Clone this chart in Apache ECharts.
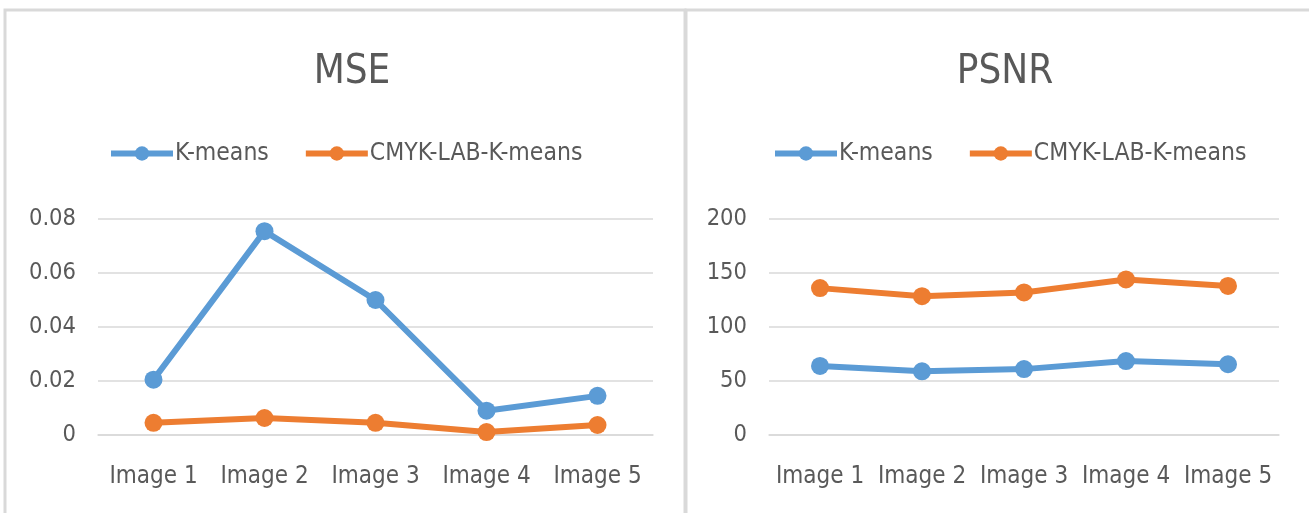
<!DOCTYPE html>
<html><head><meta charset="utf-8">
<script src="https://cdn.jsdelivr.net/npm/echarts@6/dist/echarts.min.js"></script>
<style>html,body{margin:0;padding:0;background:#fff}#c{width:1309px;height:513px}</style>
</head><body><div id="c"></div>
<script>
const categories = ['Image 1','Image 2','Image 3','Image 4','Image 5'];
const mseKmeans = [0.0205, 0.0755, 0.050, 0.009, 0.0145];
const mseCmyk = [0.0045, 0.0063, 0.0045, 0.0011, 0.0037];
const psnrKmeans = [64, 59, 61, 68.5, 65.5];
const psnrCmyk = [136, 128.5, 132, 144, 138];
const mseTicks = ['0','0.02','0.04','0.06','0.08'];
const psnrTicks = ['0','50','100','150','200'];

const FONT = "'DejaVu Sans Condensed','Open Sans',sans-serif";
const TXT = '#595959';
const BLUE = '#5B9BD5', ORANGE = '#ED7D31';
const chart = echarts.init(document.getElementById('c'));
function xAxis(i){return {type:'category',gridIndex:i,data:categories,boundaryGap:true,
  axisLine:{show:true,lineStyle:{color:'#D9D9D9',width:1.5}},axisTick:{show:false},
  axisLabel:{color:TXT,fontFamily:FONT,fontSize:24,margin:30,interval:0}};}
function yAxis(i,max,interval,fmt){return {type:'value',gridIndex:i,min:0,max:max,interval:interval,
  axisLine:{show:false},axisTick:{show:false},
  splitLine:{lineStyle:{color:'#D9D9D9',width:1.5}},
  axisLabel:{color:TXT,fontFamily:FONT,fontSize:23.5,margin:22,formatter:fmt}};}
function ser(name,data,color,i){return {name:name,type:'line',xAxisIndex:i,yAxisIndex:i,data:data,
  symbol:'circle',symbolSize:18,lineStyle:{color:color,width:6},itemStyle:{color:color},z:3};}
function legend(left){return {left:left,top:136,itemWidth:62,itemHeight:18,itemGap:34,
  data:['K-means','CMYK-LAB-K-means'],lineStyle:{width:6},
  textStyle:{color:TXT,fontFamily:FONT,fontSize:24.5,padding:[0,0,0,-3]}};}
chart.setOption({
  animation:false,
  graphic:[
    {type:'rect',shape:{x:5,y:10,width:680,height:520},style:{fill:'none',stroke:'#D9D9D9',lineWidth:3},silent:true},
    {type:'rect',shape:{x:686,y:10,width:640,height:520},style:{fill:'none',stroke:'#D9D9D9',lineWidth:3},silent:true}
  ],
  title:[
    {text:'MSE',left:347,top:48,textAlign:'center',textStyle:{color:TXT,fontFamily:FONT,fontSize:40,fontWeight:'normal'}},
    {text:'PSNR',left:1000,top:48,textAlign:'center',textStyle:{color:TXT,fontFamily:FONT,fontSize:40,fontWeight:'normal'}}
  ],
  legend:[legend(103),legend(767)],
  grid:[
    {left:98,right:656,top:219,bottom:78},
    {left:769,right:30,top:219,bottom:78}
  ],
  xAxis:[xAxis(0),xAxis(1)],
  yAxis:[
    yAxis(0,0.08,0.02,v=>mseTicks[Math.round(v/0.02)]),
    yAxis(1,200,50,v=>psnrTicks[Math.round(v/50)])
  ],
  series:[
    ser('K-means',mseKmeans,BLUE,0),
    ser('CMYK-LAB-K-means',mseCmyk,ORANGE,0),
    ser('K-means',psnrKmeans,BLUE,1),
    ser('CMYK-LAB-K-means',psnrCmyk,ORANGE,1)
  ]
});
</script></body></html>
